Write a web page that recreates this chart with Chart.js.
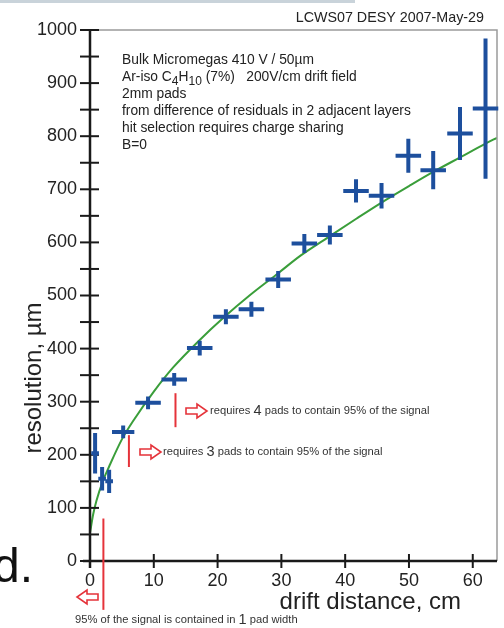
<!DOCTYPE html>
<html><head><meta charset="utf-8">
<script src="https://cdn.jsdelivr.net/npm/chart.js@4"></script>
<style>html,body{margin:0;padding:0;background:#fff;}#wrap{width:504px;height:628px;}</style>
</head><body><div id="wrap"><canvas id="c" width="504" height="628"></canvas></div>
<script>
// measured points: drift distance (cm) and resolution (um) with errors
const xs   = [0.8, 1.9, 3.0, 5.2, 9.1, 13.2, 17.2, 21.3, 25.3, 29.5, 33.6, 37.6, 41.7, 45.7, 49.9, 53.8, 58.0, 62.0];
const ys   = [203, 155, 150, 243, 298, 342, 401, 460, 474, 530, 598, 614, 697, 688, 763, 736, 805, 852];
const xErr = [0.6, 0.6, 0.6, 1.75, 2, 2, 2, 2, 2, 2, 2, 2, 2, 2, 2, 2, 2, 2];
const yErr = [38, 22, 22, 12, 12, 12, 14, 14, 14, 16, 18, 18, 22, 24, 32, 36, 50, 132];
// fit curve
const fitX = [0, 0.5, 1, 2, 3, 5, 7, 10, 13, 17, 21, 25, 29.5, 33, 37.5, 41.8, 45.7, 50, 54, 58, 62, 63.8];
const fitY = [53, 88, 113, 150, 178, 229, 268, 319, 364, 414, 459, 500, 542, 575, 611, 645, 675, 706, 734, 760, 786, 797];
// axis ticks
const xTicks = [0, 10, 20, 30, 40, 50, 60];
const yLabelTicks = [0, 100, 200, 300, 400, 500, 600, 700, 800, 900, 1000];
// annotation lines
const infoLines = ["Bulk Micromegas 410 V / 50\u00b5m", "AR", "2mm pads", "from difference of residuals in 2 adjacent layers", "hit selection requires charge sharing", "B=0"];
// red markers: x position (cm), y from, y to (um)
const redX = [2.1, 6.1, 13.4];
const redY0 = [80, 177, 252];
const redY1 = [-92, 237, 316];

const F = "Arial, 'Liberation Sans', sans-serif";
const BLUE = '#1d4f9d', GREEN = '#3a9e3a', RED = '#e5333a';

const deco = {
  id: 'deco',
  beforeDraw(chart) {
    const c = chart.ctx;
    c.save();
    c.fillStyle = '#fff'; c.fillRect(0, 0, 504, 628);
    c.fillStyle = '#c9d3da'; c.fillRect(0, 0, 355, 3);
    c.restore();
  },
  afterDraw(chart) {
    const c = chart.ctx, X = chart.scales.x, Y = chart.scales.y, a = chart.chartArea;
    c.save();
    // frame: grey top/right
    c.strokeStyle = '#9a9a9a'; c.lineWidth = 1.5;
    c.beginPath(); c.moveTo(a.left, a.top); c.lineTo(a.right, a.top); c.lineTo(a.right, a.bottom); c.stroke();
    // black axes
    c.strokeStyle = '#1a1a1a'; c.lineWidth = 2.5;
    c.beginPath(); c.moveTo(a.left, a.top); c.lineTo(a.left, a.bottom + 7); c.stroke();
    c.beginPath(); c.moveTo(a.left - 7, a.bottom); c.lineTo(a.right, a.bottom); c.stroke();
    // ticks crossing axes
    c.lineWidth = 2;
    for (let v = 0; v <= 1000; v += 50) {
      const py = Y.getPixelForValue(v);
      c.beginPath(); c.moveTo(a.left - 10, py); c.lineTo(a.left + 9, py); c.stroke();
    }
    xTicks.forEach(v => {
      const px = X.getPixelForValue(v);
      c.beginPath(); c.moveTo(px, a.bottom - 7); c.lineTo(px, a.bottom + 7); c.stroke();
    });
    // error bars
    c.strokeStyle = BLUE; c.lineWidth = 4; c.lineCap = 'butt';
    xs.forEach((x, i) => {
      const px = X.getPixelForValue(x), py = Y.getPixelForValue(ys[i]);
      c.beginPath();
      c.moveTo(X.getPixelForValue(x - xErr[i]), py); c.lineTo(X.getPixelForValue(x + xErr[i]), py);
      c.moveTo(px, Y.getPixelForValue(ys[i] - yErr[i])); c.lineTo(px, Y.getPixelForValue(ys[i] + yErr[i]));
      c.stroke();
    });
    // red vertical markers
    c.strokeStyle = RED; c.lineWidth = 2;
    redX.forEach((x, i) => {
      const px = X.getPixelForValue(x);
      c.beginPath(); c.moveTo(px, Y.getPixelForValue(redY0[i])); c.lineTo(px, Y.getPixelForValue(redY1[i])); c.stroke();
    });
    // hollow arrows
    function arrow(x0, yc, dir) {
      const L = 21, s = 11, h1 = 3, h2 = 7;
      const p = dir > 0
        ? [[x0, yc - h1], [x0 + s, yc - h1], [x0 + s, yc - h2], [x0 + L, yc], [x0 + s, yc + h2], [x0 + s, yc + h1], [x0, yc + h1]]
        : [[x0 + L, yc - h1], [x0 + L - s, yc - h1], [x0 + L - s, yc - h2], [x0, yc], [x0 + L - s, yc + h2], [x0 + L - s, yc + h1], [x0 + L, yc + h1]];
      c.beginPath(); c.moveTo(p[0][0], p[0][1]);
      for (let k = 1; k < p.length; k++) c.lineTo(p[k][0], p[k][1]);
      c.closePath(); c.fillStyle = '#fff'; c.fill();
      c.strokeStyle = RED; c.lineWidth = 1.6; c.stroke();
    }
    arrow(140, 452, 1);
    arrow(186, 411, 1);
    arrow(77, 597, -1);
    // red-side texts
    function mixed(parts, x, y) {
      c.textBaseline = 'middle'; c.textAlign = 'left'; c.fillStyle = '#333';
      parts.forEach(([t, fs]) => { c.font = fs + 'px ' + F; c.fillText(t, x, y); x += c.measureText(t).width; });
    }
    mixed([['requires ', 11.2], ['3', 14.5], [' pads to contain 95% of the signal', 11.2]], 163, 452);
    mixed([['requires ', 11.2], ['4', 14.5], [' pads to contain 95% of the signal', 11.2]], 210, 411);
    mixed([['95% of the signal is contained in ', 11.2], ['1', 14.5], [' pad width', 11.2]], 75, 620);
    // info block
    c.fillStyle = '#222'; c.textBaseline = 'alphabetic'; c.textAlign = 'left';
    const lineY = [64, 81, 98, 115, 132, 149];
    const FS = 13.8;
    infoLines.forEach((t, i) => {
      if (t === 'AR') {
        let x = 122; const y = lineY[i];
        const seg = [['Ar-iso C', FS, 0], ['4', 12, 4], ['H', FS, 0], ['10', 12, 4], [' (7%)   200V/cm drift field', FS, 0]];
        seg.forEach(([s, fs, dy]) => { c.font = fs + 'px ' + F; c.fillText(s, x, y + dy); x += c.measureText(s).width; });
      } else {
        c.font = FS + 'px ' + F; c.fillText(t, 122, lineY[i]);
      }
    });
    // header
    c.font = '14.3px ' + F; c.textAlign = 'right'; c.fillStyle = '#222';
    c.fillText('LCWS07 DESY 2007-May-29', 484, 22);
    // axis titles
    c.font = '24px ' + F; c.fillStyle = '#222'; c.textAlign = 'right';
    c.fillText('drift distance, cm', 461, 609);
    c.save(); c.translate(41, 378); c.rotate(-Math.PI / 2); c.textAlign = 'center';
    c.fillText('resolution, \u00b5m', 0, 0); c.restore();
    // slide remnant
    c.font = '48px ' + F; c.textAlign = 'left'; c.fillStyle = '#111';
    c.fillText('d.', -7, 582);
    c.restore();
  }
};

new Chart(document.getElementById('c'), {
  type: 'scatter',
  data: {
    datasets: [
      { data: fitX.map((x, i) => ({ x, y: fitY[i] })), showLine: true, borderColor: GREEN, borderWidth: 2,
        pointRadius: 0, cubicInterpolationMode: 'monotone' },
      { data: xs.map((x, i) => ({ x, y: ys[i] })), pointRadius: 0, borderWidth: 0 }
    ]
  },
  options: {
    responsive: false, animation: false, events: [],
    layout: { padding: { left: 0, right: 7, top: 30, bottom: 0 } },
    plugins: { legend: { display: false }, tooltip: { enabled: false } },
    scales: {
      x: {
        type: 'linear', min: 0, max: 63.8,
        border: { display: false },
        grid: { drawOnChartArea: false, drawTicks: false },
        afterFit(s) { s.height = 67; },
        ticks: { stepSize: 10, includeBounds: false, padding: 9, color: '#222', font: { family: F, size: 18 },
                 callback: v => (xTicks.includes(v) ? String(v) : '') }
      },
      y: {
        type: 'linear', min: 0, max: 1000,
        border: { display: false },
        grid: { drawOnChartArea: false, drawTicks: false },
        afterFit(s) { s.width = 90; },
        ticks: { stepSize: 50, includeBounds: false, padding: 13, color: '#222', font: { family: F, size: 18 },
                 callback: v => (yLabelTicks.includes(v) ? String(v) : '') }
      }
    }
  },
  plugins: [deco]
});
</script></body></html>
